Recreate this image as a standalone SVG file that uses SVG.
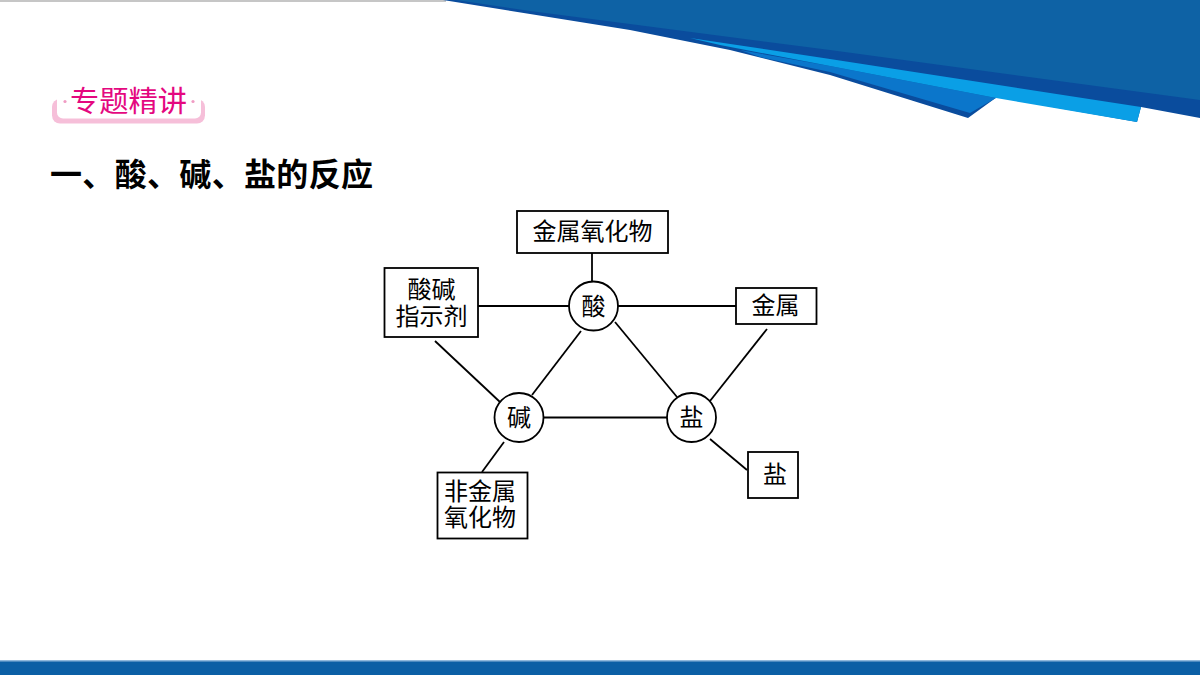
<svg xmlns="http://www.w3.org/2000/svg" width="1200" height="675" viewBox="0 0 1200 675">
<style>
.box{fill:#fff;stroke:#000;stroke-width:1.8}
.circ{fill:#fff;stroke:#000;stroke-width:1.8}
.lbl{font-family:"Noto Sans CJK SC","Liberation Sans",sans-serif;font-size:24px;fill:#000;text-anchor:middle}
#connectors line{stroke:#000;stroke-width:1.8}
</style>
<rect width="1200" height="675" fill="#fff"/>
<!-- top gray line -->
<rect x="0" y="0" width="446" height="2" fill="#c6c6c6"/>
<!-- top-right decoration -->
<g id="decor">
<polygon fill="#0a4c9d" points="443,0 1200,0 1200,118 1141,107 1137,122 997,97 968,118 830,75 730,50 630,30 530,14"/>
<polygon fill="#0b76cb" points="740,50 830,66 996,98 970,113 830,72 760,57"/>
<polygon fill="#0a9fe6" points="690,38 830,59 1141,107 1137,122 996,98 830,66 720,45"/>
<polygon fill="#0e62a5" points="456,0 1200,0 1200,100 830,50 630,24 530,11"/>
</g>
<!-- bottom bar -->
<rect x="0" y="661" width="1200" height="14" fill="#0b5fa5"/>
<rect x="0" y="660" width="1200" height="1.5" fill="#8fb8dc"/>
<!-- badge -->
<g id="badge">
<rect x="52" y="99" width="153" height="24.5" rx="8" fill="#f6bfd9"/>
<rect x="57" y="92" width="144" height="26.5" rx="6" fill="#fff"/>
<circle cx="65" cy="101.5" r="1.6" fill="#f09cc4"/>
<circle cx="193" cy="101.5" r="1.6" fill="#f09cc4"/>
<text x="70" y="111.5" font-family="'Noto Sans CJK SC',sans-serif" font-size="29" fill="#e4087f" textLength="117" lengthAdjust="spacingAndGlyphs">专题精讲</text>
</g>
<!-- title -->
<text id="title" x="50" y="186" font-family="'Noto Sans CJK SC',sans-serif" font-size="32" font-weight="bold" fill="#000" textLength="323" lengthAdjust="spacing">一、酸、碱、盐的反应</text>
<!-- connectors -->
<g id="connectors">
<line x1="592" y1="253" x2="592" y2="281"/>
<line x1="478" y1="306" x2="569" y2="306"/>
<line x1="618" y1="306" x2="736" y2="306"/>
<line x1="435" y1="341" x2="500" y2="402"/>
<line x1="581" y1="331" x2="532" y2="395"/>
<line x1="615" y1="322" x2="677" y2="397"/>
<line x1="767" y1="329" x2="710" y2="401"/>
<line x1="543" y1="417.5" x2="667" y2="417.5"/>
<line x1="504" y1="442" x2="482" y2="472"/>
<line x1="710" y1="439" x2="747" y2="470"/>
</g>
<!-- nodes -->
<g id="node-jinshuyanghuawu">
<rect class="box" x="517" y="211" width="151" height="42"/>
<text class="lbl" x="592.5" y="240">金属氧化物</text>
</g>
<g id="node-zhishiji">
<rect class="box" x="384.5" y="268" width="93.5" height="69"/>
<text class="lbl" x="431.5" y="298">酸碱<tspan x="431.5" y="325">指示剂</tspan></text>
</g>
<g id="node-jinshu">
<rect class="box" x="736" y="288" width="80.5" height="36"/>
<text class="lbl" x="775.5" y="314">金属</text>
</g>
<g id="node-suan">
<circle class="circ" cx="593.5" cy="306" r="24.5"/>
<text class="lbl" x="593.5" y="315">酸</text>
</g>
<g id="node-jian">
<circle class="circ" cx="519" cy="417.5" r="24.5"/>
<text class="lbl" x="519" y="426">碱</text>
</g>
<g id="node-yan">
<circle class="circ" cx="691.5" cy="417.5" r="24.5"/>
<text class="lbl" x="691.5" y="426">盐</text>
</g>
<g id="node-feijinshuyanghuawu">
<rect class="box" x="437.5" y="472.5" width="90" height="66"/>
<text class="lbl" x="480" y="500">非金属<tspan x="480" y="526">氧化物</tspan></text>
</g>
<g id="node-yan-box">
<rect class="box" x="748" y="452" width="50" height="46"/>
<text class="lbl" x="775" y="483">盐</text>
</g>
</svg>
